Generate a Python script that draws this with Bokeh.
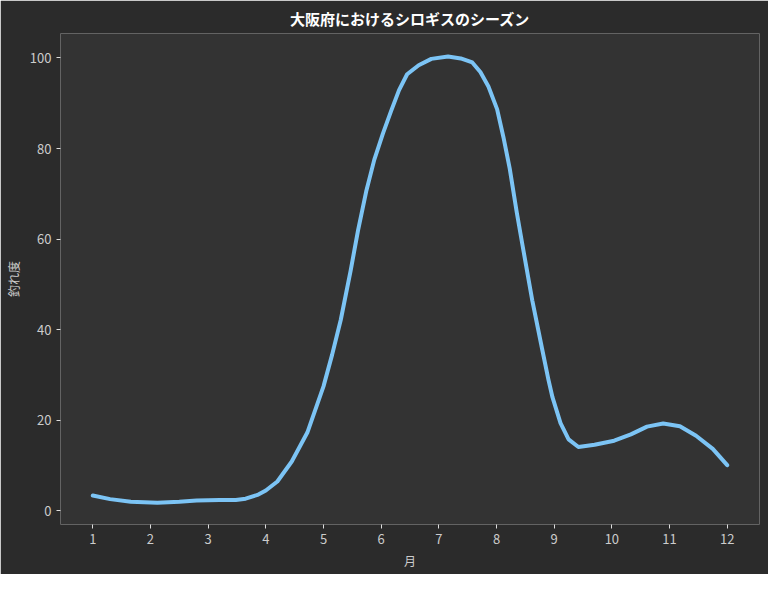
from bokeh.plotting import figure
from bokeh.models import Range1d, FixedTicker
from bokeh.embed import file_html
from bokeh.resources import INLINE

# values (month, 釣れ度)
months = [1.0, 1.3, 1.66, 2.12, 2.5, 2.8, 3.2, 3.48, 3.65, 3.87, 4.0, 4.2, 4.45,
          4.72, 5.0, 5.15, 5.3, 5.47, 5.6, 5.74, 5.88, 6.03, 6.17, 6.31, 6.45,
          6.65, 6.87, 7.16, 7.38, 7.58, 7.72, 7.86, 8.01, 8.12, 8.23, 8.35, 8.45,
          8.62, 8.79, 8.9, 8.97, 9.11, 9.25, 9.42, 9.7, 10.04, 10.33, 10.61,
          10.89, 11.18, 11.46, 11.75, 12.0]
score = [3.4, 2.6, 2.0, 1.8, 2.0, 2.3, 2.4, 2.4, 2.7, 3.6, 4.5, 6.5, 10.9,
         17.3, 27.5, 34.5, 42.2, 53.0, 62.0, 70.5, 77.5, 83.3, 88.2, 92.9, 96.4,
         98.4, 99.8, 100.3, 99.9, 99.0, 96.9, 93.7, 88.7, 82.5, 75.5, 66.0, 58.7,
         46.5, 35.8, 29.0, 25.1, 19.4, 15.8, 14.1, 14.6, 15.5, 16.9, 18.6,
         19.3, 18.7, 16.6, 13.7, 10.1]
x_ticks = [1, 2, 3, 4, 5, 6, 7, 8, 9, 10, 11, 12]
y_ticks = [0, 20, 40, 60, 80, 100]

FONT = "Noto Sans CJK JP"

p = figure(width=768, height=574, output_backend="svg", toolbar_location=None,
           x_range=Range1d(0.44, 12.56), y_range=Range1d(-3, 105.4),
           title="大阪府におけるシロギスのシーズン",
           min_border_left=60, min_border_right=9, min_border_top=30, min_border_bottom=50)

p.background_fill_color = "#333333"
p.border_fill_color = "#2b2b2b"
p.outline_line_color = None
p.grid.visible = False

p.title.align = "center"
p.title.text_color = "#ffffff"
p.title.text_font = FONT
p.title.text_font_size = "15px"
p.title.text_font_style = "bold"

p.xaxis.ticker = FixedTicker(ticks=x_ticks)
p.yaxis.ticker = FixedTicker(ticks=y_ticks)
p.xaxis.axis_label = "月"
p.yaxis.axis_label = "釣れ度"
for ax in (p.xaxis, p.yaxis):
    ax.axis_line_color = None
    ax.major_tick_line_color = "#dddddd"
    ax.major_tick_in = 0
    ax.major_tick_out = 4
    ax.minor_tick_line_color = None
    ax.major_label_text_color = "#cccccc"
    ax.major_label_text_font = FONT
    ax.major_label_text_font_size = "13px"
    ax.axis_label_text_color = "#cccccc"
    ax.axis_label_text_font = FONT
    ax.axis_label_text_font_size = "12px"
    ax.axis_label_text_font_style = "normal"

p.line(months, score, line_color="#7cc4f5", line_width=4, line_cap="round", line_join="round")

open("out.html", "w").write(file_html(p, INLINE))
